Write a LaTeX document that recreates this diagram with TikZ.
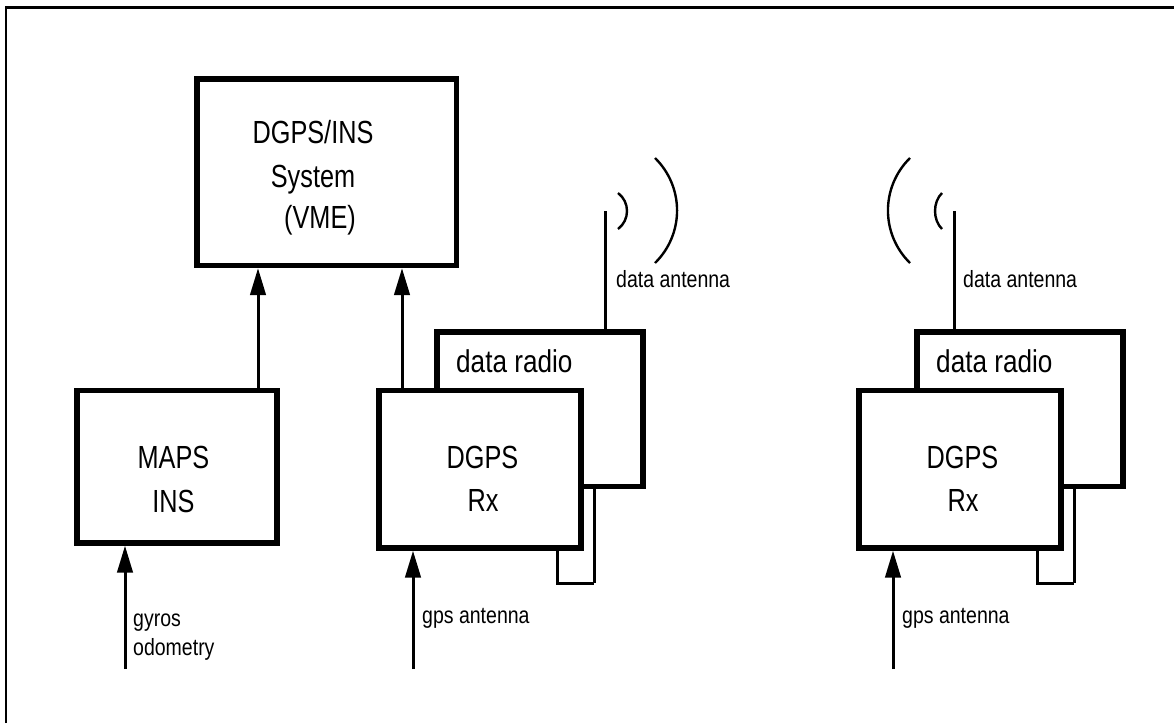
\documentclass[tikz,border=0pt]{standalone}
\usepackage{fontspec}
\setmainfont[FakeStretch=0.83]{Liberation Sans}
\newfontfamily\capsfont[FakeStretch=0.79]{Liberation Sans}
\usetikzlibrary{arrows.meta}
\tikzset{
  x=1pt,y=-1pt,
  frame/.style={draw,line width=2.8pt},
  block/.style={draw,fill=white,line width=5.4pt,inner sep=0pt,anchor=north west},
  big/.style={font=\capsfont\fontsize{32}{36}\selectfont,anchor=base,inner sep=0pt},
  radiotext/.style={font=\fontsize{31.5}{36}\selectfont,anchor=base west,inner sep=0pt},
  small/.style={font=\fontsize{23.5}{28}\selectfont,anchor=base west,inner sep=0pt},
  feed/.style={line width=3pt,-{Triangle[length=27pt,width=15.5pt]}},
  wire/.style={line width=3pt},
  wave/.style={line width=2.4pt},
}
\begin{document}
\begin{tikzpicture}
\useasboundingbox (0,0) rectangle (1174,723);
\fill[white] (0,0) rectangle (1174,723);
\draw[frame] (6,723) -- (6,7.5) -- (1174,7.5);

% top system
\node[block,minimum width=259.5pt,minimum height=186.5pt] (sys) at (197-2.7,79-2.7) {};
\node[big] (sys1) at (313,143) {DGPS/INS};
\node[big] (sys2) at (313,187) {System};
\node[big] (sys3) at (320,228) {(VME)};

% MAPS
\node[block,minimum width=200pt,minimum height=152.5pt] (maps) at (77-2.7,390.5-2.7) {};
\node[big] (maps1) at (173.5,468) {MAPS};
\node[big] (maps2) at (173.5,512) {INS};
\coordinate (mapsin) at (125,669);
\draw[feed] (mapsin) -- (mapsin |- maps.south);
\coordinate (mapsout) at (258,388);
\draw[feed] (mapsout |- maps.north) -- (mapsout |- sys.south);
\node[small] (gyros) at (133,626) {gyros};
\node[small] (odo) at (133,655) {odometry};

% middle group
\node[block,minimum width=206pt,minimum height=154.5pt] (radioA) at (437-2.7,332-2.7) {};
\coordinate (loopAa) at (557,583);
\coordinate (loopAb) at (594,583);
\draw[wire] (loopAb) -- (loopAb |- radioA.south);
\node[block,minimum width=202pt,minimum height=157.5pt] (rxA) at (379-2.7,390.5-2.7) {};
\draw[wire] (loopAa |- rxA.south) -- (loopAa) -- (loopAb);
\node[big] (rxA1) at (482.5,468) {DGPS};
\node[big] (rxA2) at (483,511.5) {Rx};
\node[radiotext] (radA) at (456,372) {data radio};
\coordinate (antA) at (605,211);
\draw[wire] (antA) -- (antA |- radioA.north);
\node[small] (antlabA) at (616,287) {data antenna};
\coordinate (rxAin) at (413,669);
\draw[feed] (rxAin) -- (rxAin |- rxA.south);
\node[small] (gpsA) at (422,623) {gps antenna};
\coordinate (rxAout) at (402,388);
\draw[feed] (rxAout |- rxA.north) -- (rxAout |- sys.south);
\draw[wave] (655,158) .. controls (684.4,186.9) and (684.4,234.1) .. (655,263);
\draw[wave] (618,193) .. controls (630,202) and (630,220) .. (618,229);

% right group
\node[block,minimum width=206pt,minimum height=154.5pt] (radioB) at (917-2.7,332-2.7) {};
\coordinate (loopBa) at (1037,583);
\coordinate (loopBb) at (1074,583);
\draw[wire] (loopBb) -- (loopBb |- radioB.south);
\node[block,minimum width=202pt,minimum height=157.5pt] (rxB) at (859-2.7,390.5-2.7) {};
\draw[wire] (loopBa |- rxB.south) -- (loopBa) -- (loopBb);
\node[big] (rxB1) at (962.5,468) {DGPS};
\node[big] (rxB2) at (963,511.5) {Rx};
\node[radiotext] (radB) at (936,372) {data radio};
\coordinate (antB) at (954,211);
\draw[wire] (antB) -- (antB |- radioB.north);
\node[small] (antlabB) at (963,287) {data antenna};
\coordinate (rxBin) at (893,669);
\draw[feed] (rxBin) -- (rxBin |- rxB.south);
\node[small] (gpsB) at (902,623) {gps antenna};
\draw[wave] (910,158) .. controls (880.6,186.9) and (880.6,234.1) .. (910,263);
\draw[wave] (942,193) .. controls (932.7,202) and (932.7,220) .. (942,229);
\end{tikzpicture}
\end{document}
